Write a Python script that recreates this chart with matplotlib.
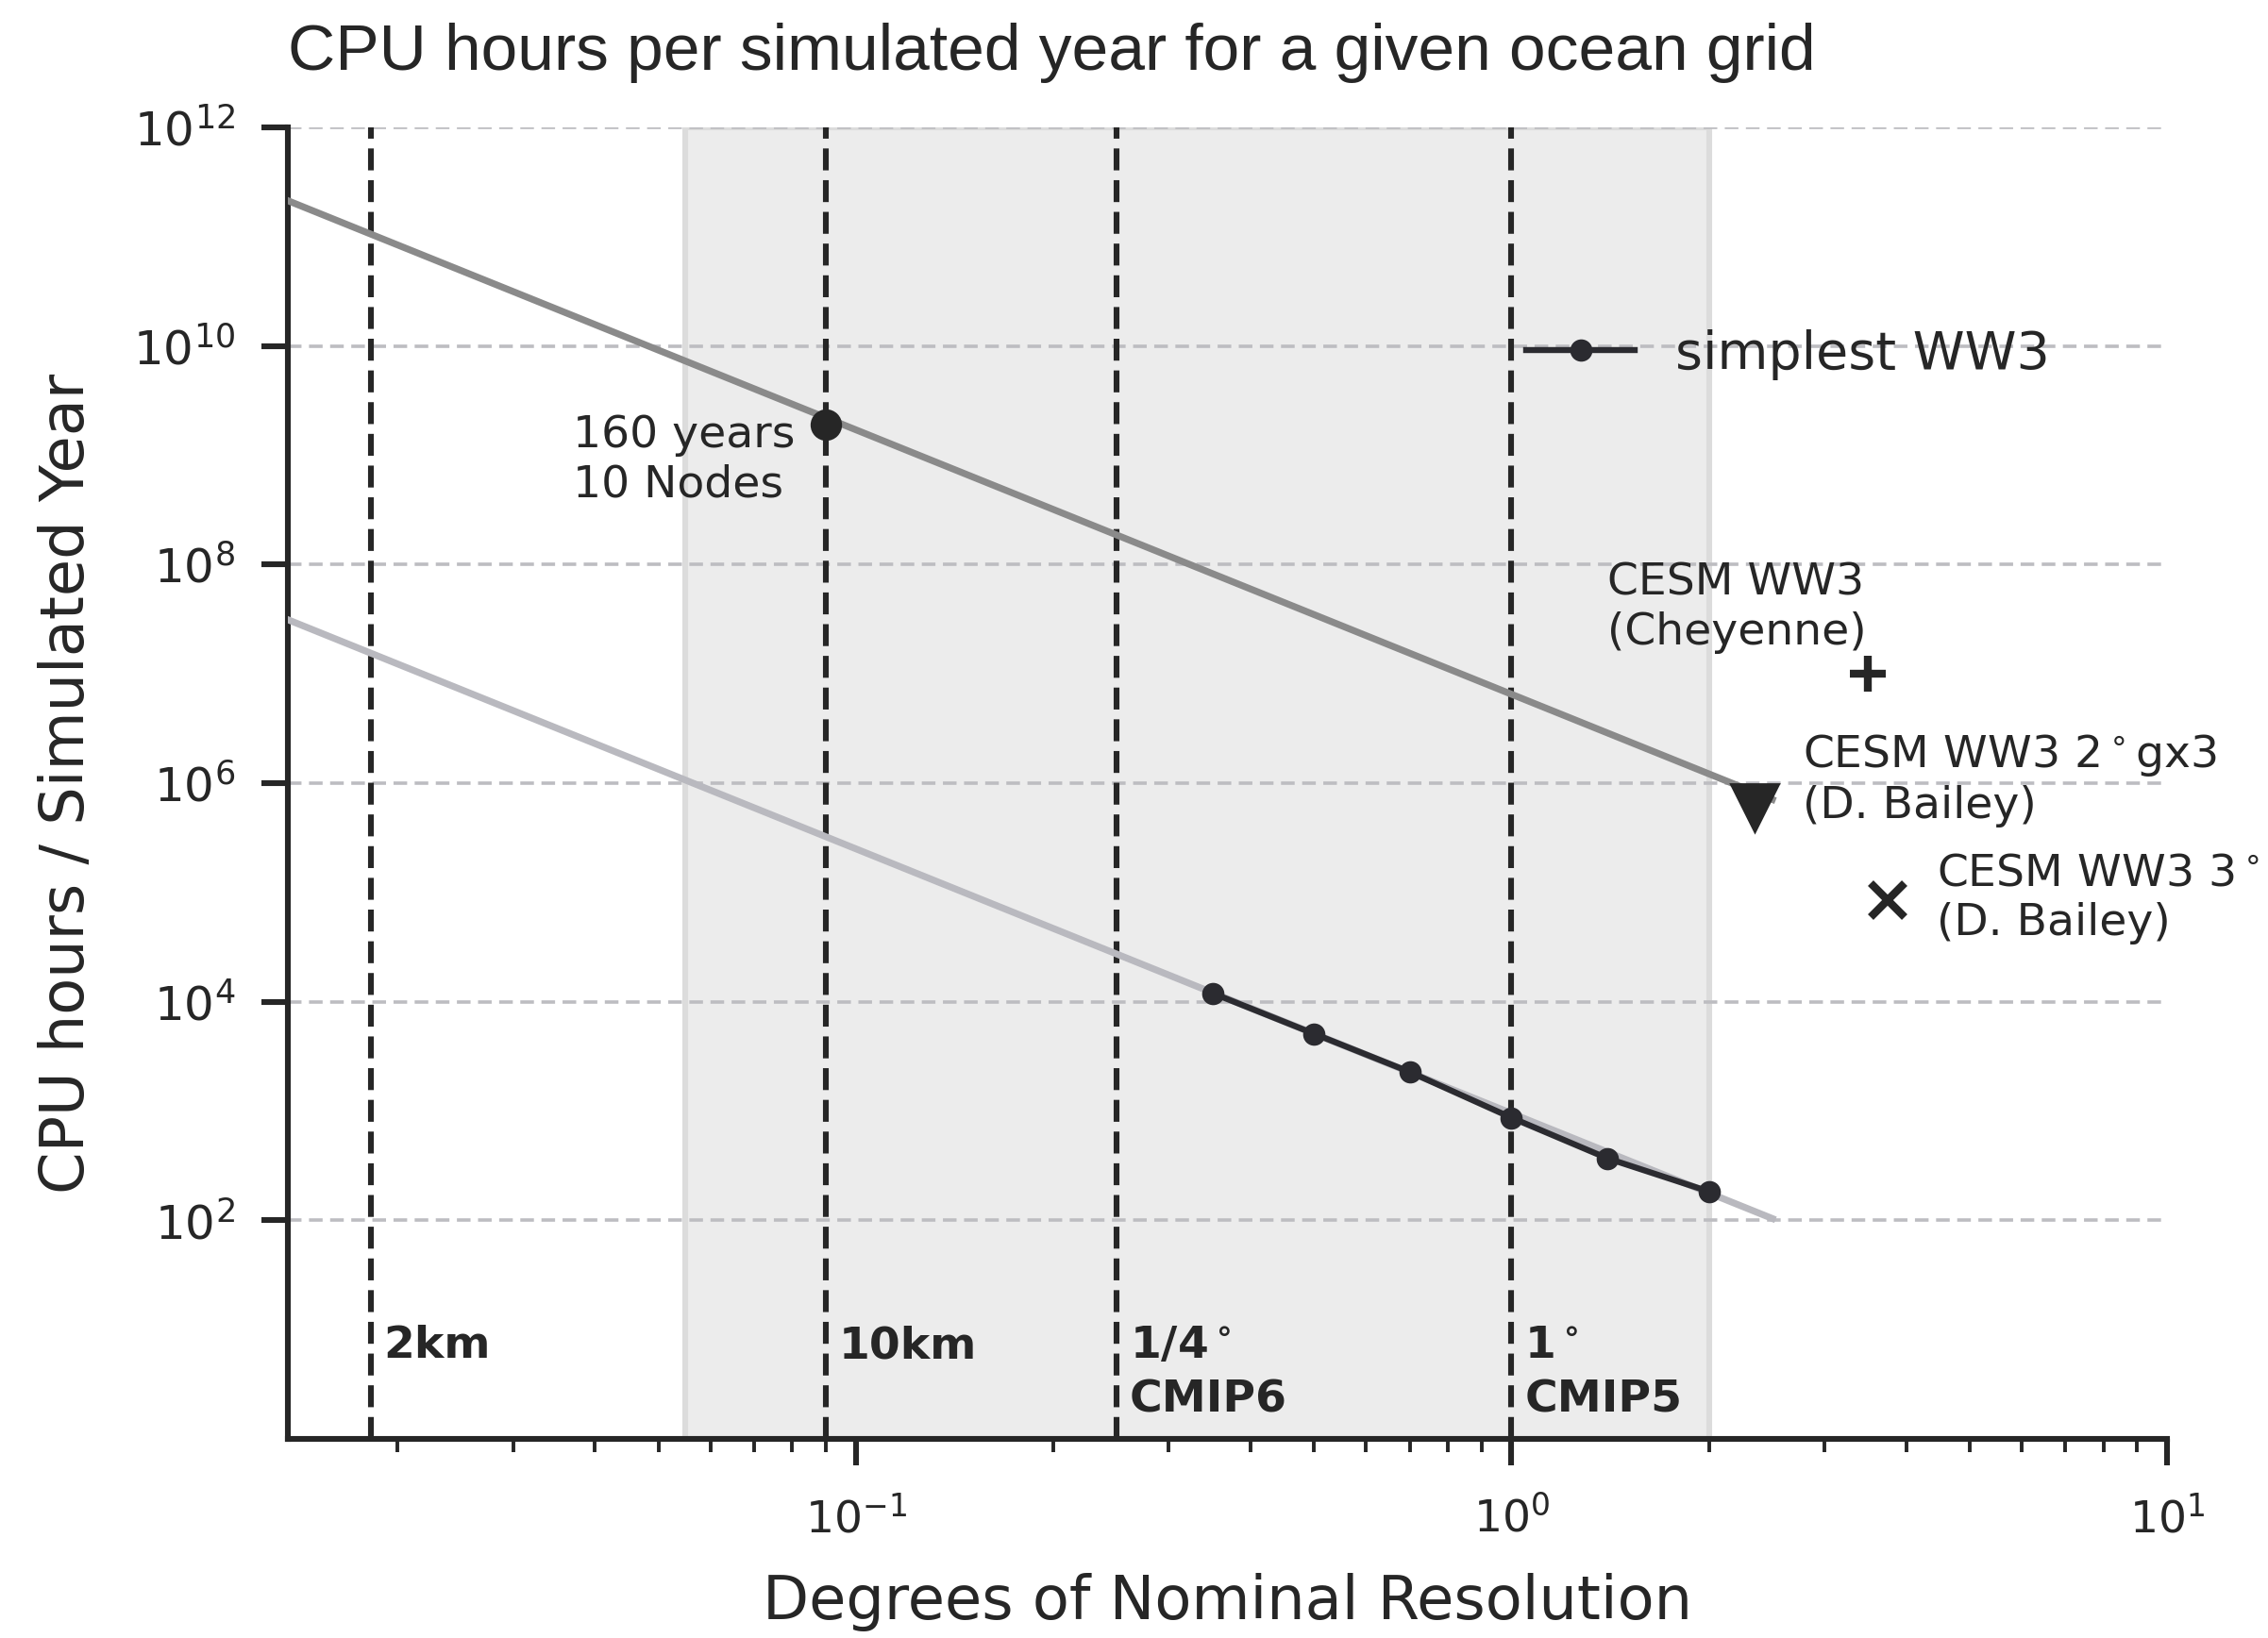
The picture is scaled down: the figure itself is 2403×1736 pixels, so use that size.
import matplotlib
matplotlib.use('Agg')
import matplotlib.pyplot as plt
import matplotlib.ticker as mticker
import matplotlib.transforms as mtransforms

# simplest WW3 timings (degrees, CPU hours per simulated year)
res_deg = [0.35, 0.5, 0.7, 1.0, 1.4, 2.0]
cpu_hours = [12000, 5100, 2280, 870, 370, 184]

# power-law fit to the timings, and the same slope through the 10km run
fit_res = [0.01, 2.5]
fit_cpu = [6.6e7, 104]
scaled_fit_cpu = [4.5e11, 7.1e5]

# 10km run: 160 years on 10 nodes
run10km_res = [0.09]
run10km_cpu = [1.9e9]

# CESM coupled WW3 timings
cheyenne_res, cheyenne_cpu = [3.5], [1.0e7]
bailey2_res, bailey2_cpu = [2.35], [6.0e5]
bailey3_res, bailey3_cpu = [3.75], [8.5e4]

# reference resolutions
ref_res = [0.0182, 0.09, 0.25, 1.0]
ref_labels = ['2km', '10km', '1/4$^\\circ$\nCMIP6', '1$^\\circ$\nCMIP5']
band = [0.055, 2.0]

dark = '#262626'
plt.rcParams['font.family'] = 'DejaVu Sans'
plt.rcParams['mathtext.default'] = 'regular'
plt.rcParams['text.color'] = dark
plt.rcParams['axes.labelcolor'] = dark
plt.rcParams['xtick.color'] = dark
plt.rcParams['ytick.color'] = dark

fig = plt.figure(figsize=(12.015, 8.68), dpi=200)
ax = fig.add_axes([0.1269, 0.1215, 0.8286, 0.8007])
ax.set_xscale('log')
ax.set_yscale('log')
ax.set_xlim(0.0136, 10)
ax.set_ylim(1, 1e12)

ax.axvspan(band[0], band[1], facecolor='#ececec', edgecolor='#dcdcdc', linewidth=2.2, zorder=0)
ax.set_axisbelow(True)
ax.yaxis.grid(True, linestyle=(0, (4.0, 2.2)), color='#bdbdc1', linewidth=1.3)

trans = mtransforms.blended_transform_factory(ax.transData, ax.transAxes)
for x, lab in zip(ref_res, ref_labels):
    ax.axvline(x, color=dark, lw=2.2, linestyle=(0, (3.8, 1.7)), zorder=2)
    ax.annotate(lab, xy=(x, 0.087), xycoords=trans, xytext=(5, 0), textcoords='offset points',
                fontsize=17, fontweight='bold', ha='left', va='top', linespacing=1.35)

ax.plot(fit_res, scaled_fit_cpu, color='#8a8a8a', lw=2.6, zorder=3)
ax.plot(fit_res, fit_cpu, color='#b9b9bf', lw=2.6, zorder=3)
ax.plot(res_deg, cpu_hours, '-o', color='#2b2b30', lw=2.3, ms=7.5, label='simplest WW3', zorder=4)
ax.plot(run10km_res, run10km_cpu, 'o', color=dark, ms=11, zorder=5)
ax.plot(cheyenne_res, cheyenne_cpu, '+', color=dark, ms=14, mew=3, zorder=5)
ax.plot(bailey2_res, bailey2_cpu, 'v', color=dark, ms=18, zorder=5)
ax.plot(bailey3_res, bailey3_cpu, 'x', color=dark, ms=13, mew=3, zorder=5)

ax.text(0.037, 9.06e8, '160 years\n10 Nodes', fontsize=17, ha='left', va='center')
ax.text(1.40, 4e7, 'CESM WW3\n(Cheyenne)', fontsize=17, ha='left', va='center')
ax.text(2.78, 1.07e6, 'CESM WW3 2$^\\circ$gx3\n(D. Bailey)', fontsize=17, ha='left', va='center')
ax.text(4.45, 8.85e4, 'CESM WW3 3$^\\circ$\n(D. Bailey)', fontsize=17, ha='left', va='center',
        clip_on=False)

ax.legend(loc='center left', bbox_to_anchor=(0.659, 0.827), frameon=False, fontsize=20,
          handlelength=2.07, handletextpad=0.78, borderpad=0, borderaxespad=0)

ax.set_yticks([1e2, 1e4, 1e6, 1e8, 1e10, 1e12])
ax.yaxis.set_minor_locator(mticker.NullLocator())
ax.yaxis.set_major_formatter(mticker.LogFormatterMathtext())
ax.tick_params(which='major', length=10, width=2.2)
ax.tick_params(axis='y', which='major', labelsize=18, pad=10)
ax.tick_params(axis='x', which='major', labelsize=17, pad=12)
ax.tick_params(which='minor', length=5, width=1.4)

for side in ['top', 'right']:
    ax.spines[side].set_visible(False)
for side in ['left', 'bottom']:
    ax.spines[side].set_linewidth(2.2)
    ax.spines[side].set_color(dark)

ax.set_xlabel('Degrees of Nominal Resolution', fontsize=23, labelpad=12)
ax.set_ylabel('CPU hours / Simulated Year', fontsize=23, labelpad=14)
ax.set_title('CPU hours per simulated year for a given ocean grid', loc='left',
             fontsize=25, family='Liberation Sans', pad=22)

fig.savefig('out.png', dpi=200)
